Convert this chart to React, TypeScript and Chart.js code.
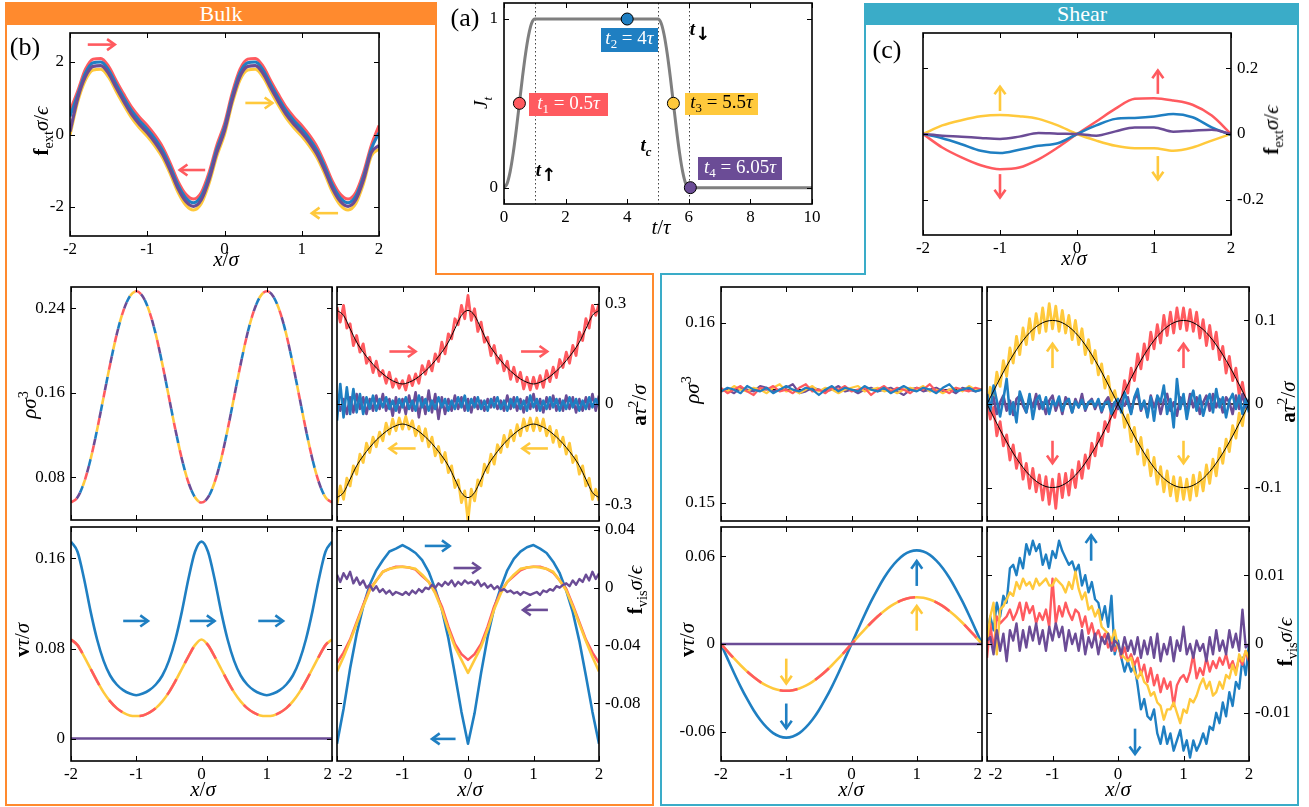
import React, { useEffect, useRef } from 'react';
import { Chart, registerables } from 'chart.js';
Chart.register(...registerables);

const RED = '#FF5A5F';
const BLUE = '#1F7FC2';
const YEL = '#FFC93C';
const PUR = '#6B4C96';
const GRAY = '#7F7F7F';
const ORANGE = '#FF8A2E';
const TEAL = '#3AACC8';
const SERIF = '"Liberation Serif", "DejaVu Serif", serif';
const PADL = 70, PADR = 70, PADT = 12, PADB = 34;

// ---------- shared x grids ----------
const xs41 = [-2,-1.9,-1.8,-1.7,-1.6,-1.5,-1.4,-1.3,-1.2,-1.1,-1,-0.9,-0.8,-0.7,-0.6,-0.5,-0.4,-0.3,-0.2,-0.1,0,0.1,0.2,0.3,0.4,0.5,0.6,0.7,0.8,0.9,1,1.1,1.2,1.3,1.4,1.5,1.6,1.7,1.8,1.9,2];
const xs81 = [-2,-1.95,-1.9,-1.85,-1.8,-1.75,-1.7,-1.65,-1.6,-1.55,
  -1.5,-1.45,-1.4,-1.35,-1.3,-1.25,-1.2,-1.15,-1.1,-1.05,
  -1,-0.95,-0.9,-0.85,-0.8,-0.75,-0.7,-0.65,-0.6,-0.55,
  -0.5,-0.45,-0.4,-0.35,-0.3,-0.25,-0.2,-0.15,-0.1,-0.05,
  0,0.05,0.1,0.15,0.2,0.25,0.3,0.35,0.4,0.45,
  0.5,0.55,0.6,0.65,0.7,0.75,0.8,0.85,0.9,0.95,
  1,1.05,1.1,1.15,1.2,1.25,1.3,1.35,1.4,1.45,
  1.5,1.55,1.6,1.65,1.7,1.75,1.8,1.85,1.9,1.95,
  2];
const xsEnds = [-2, 2];
const xs17 = [-2,-1.75,-1.5,-1.25,-1,-0.75,-0.5,-0.25,0,0.25,0.5,0.75,1,1.25,1.5,1.75,2];
const xTicksPos = [-2,-1,0,1,2];
const xTickLabels = ['-2','-1','0','1','2'];
// bottom-row labels are nudged apart where two panels meet (as in the figure)
const xTickLabelsLeftPanel = ['-2','-1','0','1','2\u2002'];
const xTickLabelsRightPanel = ['\u2002\u2002-2','-1','0','1','2'];

// ---------- (a) protocol ----------
const tJ = [0,0.1,0.2,0.3,0.4,0.5,0.6,0.7,0.8,0.9,1,2,3,4,5,5.1,5.2,5.3,5.4,5.5,5.6,5.7,5.8,5.9,6,7,8,9,10];
const Jt = [0,0.024,0.095,0.206,0.345,0.5,0.655,0.794,0.905,0.976,1,1,1,1,1,0.976,0.905,0.794,0.655,0.5,0.345,0.206,0.095,0.024,0,0,0,0,0];
const tMarks = [0.5,4,5.5,6.05];
const jMarks = [0.5,1,0.5,0];
const tGuides = [1,5,6];
const aXTicks = [0,2,4,6,8,10];
const aXLabels = ['0','2','4','6','8','10'];

// ---------- (b) bulk f_ext ----------
const fextBulkRed = [0.65,1.2,1.8,2.08,2.1,1.88,1.48,1.1,0.75,0.48, 0.25,-0.02,-0.35,-0.8,-1.3,-1.65,-1.78,-1.6,-1.05,-0.3, 0.3,1.15,1.8,2.08,2.1,1.88,1.48,1.1,0.75,0.48, 0.25,-0.02,-0.35,-0.8,-1.3,-1.65,-1.78,-1.6,-1.05,-0.3, 0.25];
const fextBulkBlue = [0.5,1.1,1.7,1.98,2.0,1.78,1.38,1.0,0.65,0.38, 0.15,-0.12,-0.45,-0.9,-1.4,-1.75,-1.88,-1.7,-1.15,-0.4, 0.2,1.05,1.7,1.98,2.0,1.78,1.38,1.0,0.65,0.38, 0.15,-0.12,-0.45,-0.9,-1.4,-1.75,-1.88,-1.7,-1.15,-0.4, 0.05];
const fextBulkPurple = [0.08,1.0,1.6,1.88,1.9,1.68,1.28,0.9,0.55,0.28, 0.05,-0.22,-0.55,-1.0,-1.5,-1.85,-1.98,-1.8,-1.25,-0.5, 0.1,0.95,1.6,1.88,1.9,1.68,1.28,0.9,0.55,0.28, 0.05,-0.22,-0.55,-1.0,-1.5,-1.85,-1.98,-1.8,-1.25,-0.5, -0.3];
const fextBulkYellow = [-0.02,0.9,1.5,1.78,1.8,1.58,1.18,0.8,0.45,0.18, -0.05,-0.32,-0.65,-1.1,-1.6,-1.95,-2.08,-1.9,-1.35,-0.6, 0.0,0.85,1.5,1.78,1.8,1.58,1.18,0.8,0.45,0.18, -0.05,-0.32,-0.65,-1.1,-1.6,-1.95,-2.08,-1.9,-1.35,-0.6, -0.4];
const fextBulkTicks = [-2,0,2];
const fextBulkLabels = ['-2','0','2'];

// ---------- (c) shear f_ext ----------
const fextShearRed = [0,-0.041,-0.071,-0.095,-0.107,-0.102,-0.077,-0.041,0,0.038,0.077,0.107,0.109,0.102,0.089,0.056,0];
const fextShearBlue = [0,-0.013,-0.031,-0.051,-0.058,-0.048,-0.036,-0.028,0,0.026,0.046,0.049,0.053,0.061,0.051,0.02,-0.003];
const fextShearYellow = [0,0.026,0.042,0.054,0.058,0.054,0.046,0.026,0,-0.02,-0.036,-0.043,-0.043,-0.051,-0.041,-0.02,0];
const fextShearPurple = [0,-0.005,-0.008,-0.012,-0.015,-0.008,0.003,0.001,0,-0.005,0.008,0.02,0.02,0.007,0.01,0.013,0];
const fextShearTicks = [-0.2,0,0.2];
const fextShearLabels = ['-0.2','0','0.2'];

// ---------- bulk density ----------
const rhoBulk = [0.056,0.061,0.075,0.097,0.125,0.156,0.187,0.215,0.237,0.251, 0.256,0.251,0.237,0.215,0.187,0.156,0.125,0.097,0.075,0.061, 0.056,0.061,0.075,0.097,0.125,0.156,0.187,0.215,0.237,0.251, 0.256,0.251,0.237,0.215,0.187,0.156,0.125,0.097,0.075,0.061, 0.056];
const rhoBulkTicks = [0.08,0.16,0.24];
const rhoBulkLabels = ['0.08','0.16','0.24'];

// ---------- bulk acceleration ----------
const accBulkTheoryUp = [0.28,0.265,0.225,0.185,0.155,0.13,0.108,0.09,0.075,0.065, 0.06,0.065,0.075,0.09,0.108,0.13,0.155,0.185,0.225,0.265, 0.28,0.265,0.225,0.185,0.155,0.13,0.108,0.09,0.075,0.065, 0.06,0.065,0.075,0.09,0.108,0.13,0.155,0.185,0.225,0.265, 0.28];
const accBulkTheoryDown = [-0.28,-0.265,-0.225,-0.185,-0.155,-0.13,-0.108,-0.09,-0.075,-0.065, -0.06,-0.065,-0.075,-0.09,-0.108,-0.13,-0.155,-0.185,-0.225,-0.265, -0.28,-0.265,-0.225,-0.185,-0.155,-0.13,-0.108,-0.09,-0.075,-0.065, -0.06,-0.065,-0.075,-0.09,-0.108,-0.13,-0.155,-0.185,-0.225,-0.265, -0.28];
const accBulkRed = [0.29,0.245,0.295,0.227,0.24,0.175,0.205,0.155,0.18,0.122,
  0.14,0.094,0.128,0.084,0.1,0.062,0.095,0.05,0.075,0.047,
  0.07,0.042,0.085,0.055,0.09,0.062,0.115,0.089,0.128,0.099,
  0.15,0.127,0.185,0.15,0.21,0.195,0.255,0.237,0.295,0.255,
  0.325,0.25,0.285,0.217,0.245,0.185,0.2,0.145,0.175,0.122,
  0.145,0.099,0.128,0.074,0.11,0.067,0.095,0.045,0.08,0.042,
  0.08,0.047,0.085,0.05,0.1,0.067,0.11,0.079,0.133,0.109,
  0.155,0.122,0.175,0.145,0.215,0.19,0.255,0.227,0.295,0.265,
  0.3];
const accBulkYellow = [-0.3,-0.245,-0.285,-0.222,-0.245,-0.185,-0.21,-0.15,-0.175,-0.117,
  -0.145,-0.099,-0.128,-0.084,-0.11,-0.057,-0.09,-0.045,-0.08,-0.042,
  -0.075,-0.037,-0.075,-0.05,-0.095,-0.067,-0.11,-0.074,-0.128,-0.099,
  -0.155,-0.127,-0.175,-0.145,-0.205,-0.185,-0.25,-0.227,-0.295,-0.26,
  -0.35,-0.255,-0.29,-0.227,-0.245,-0.18,-0.205,-0.15,-0.18,-0.122,
  -0.145,-0.094,-0.128,-0.079,-0.11,-0.062,-0.095,-0.045,-0.08,-0.042,
  -0.08,-0.042,-0.08,-0.045,-0.095,-0.067,-0.115,-0.079,-0.128,-0.099,
  -0.15,-0.117,-0.175,-0.155,-0.21,-0.185,-0.245,-0.222,-0.285,-0.255,
  -0.29];
const accBulkBlue = [-0.05,0.06,-0.04,0.05,-0.03,0.045,-0.025,0.03,-0.03,0.02,
  -0.015,0.025,-0.02,0.015,-0.01,0.02,-0.015,0.01,-0.02,0.015,
  -0.01,0.02,-0.015,0.01,-0.02,0.025,-0.01,0.015,-0.02,0.01,
  -0.015,0.02,-0.01,0.015,-0.02,0.01,-0.015,0.02,-0.01,0.025,
  -0.02,0.015,-0.01,0.02,-0.015,0.01,-0.02,0.015,-0.01,0.02,
  -0.015,0.01,-0.02,0.015,-0.01,0.02,-0.015,0.01,-0.02,0.025,
  -0.01,0.015,-0.02,0.01,-0.015,0.02,-0.01,0.015,-0.02,0.01,
  -0.015,0.02,-0.01,0.015,-0.02,0.01,-0.015,0.02,-0.01,0.015,
  -0.005];
const accBulkPurple = [0.01,-0.02,0.015,-0.03,0.02,-0.025,0.03,-0.015,0.02,-0.03,
  0.015,-0.02,0.025,-0.015,0.03,-0.02,0.015,-0.035,0.02,-0.025,
  0.015,-0.03,0.025,-0.02,0.035,-0.04,0.02,-0.03,0.04,-0.025,
  0.03,-0.045,0.02,-0.03,0.015,-0.02,0.025,-0.015,0.02,-0.02,
  0.015,-0.025,0.02,-0.015,0.01,-0.02,0.015,-0.01,0.02,-0.015,
  0.01,-0.02,0.025,-0.015,0.02,-0.02,0.015,-0.025,0.02,-0.015,
  0.03,-0.02,0.015,-0.025,0.02,-0.015,0.025,-0.02,0.015,-0.02,
  0.025,-0.015,0.02,-0.025,0.015,-0.02,0.02,-0.015,0.03,-0.02,
  0.025];
const accBulkTicks = [-0.3,0,0.3];
const accBulkLabels = ['-0.3','0','0.3'];

// ---------- bulk velocity ----------
const vBulkBlue = [0.175,0.166,0.142,0.113,0.088,0.069,0.056,0.048,0.043,0.04, 0.0385,0.04,0.043,0.048,0.056,0.069,0.088,0.113,0.142,0.166, 0.175,0.166,0.142,0.113,0.088,0.069,0.056,0.048,0.043,0.04, 0.0385,0.04,0.043,0.048,0.056,0.069,0.088,0.113,0.142,0.166, 0.175];
const vBulkRedYellow = [0.088,0.083,0.073,0.062,0.051,0.041,0.033,0.027,0.023,0.0205, 0.02,0.0205,0.023,0.027,0.033,0.041,0.051,0.062,0.073,0.083, 0.088,0.083,0.073,0.062,0.051,0.041,0.033,0.027,0.023,0.0205, 0.02,0.0205,0.023,0.027,0.033,0.041,0.051,0.062,0.073,0.083, 0.088];
const vBulkPurple = [0, 0];
const vBulkTicks = [0,0.08,0.16];
const vBulkLabels = ['0','0.08','0.16'];

// ---------- bulk viscous force ----------
const fvisBulkBlue = [-0.108,-0.084,-0.056,-0.032,-0.013,0.002,0.012,0.019,0.025,0.027, 0.0295,0.027,0.024,0.019,0.011,-0.001,-0.015,-0.035,-0.06,-0.086, -0.108,-0.087,-0.059,-0.034,-0.014,0.0,0.012,0.02,0.025,0.028, 0.0295,0.027,0.024,0.018,0.01,-0.002,-0.017,-0.037,-0.061,-0.086, -0.108];
const fvisBulkRed = [-0.052,-0.045,-0.036,-0.024,-0.012,-0.001,0.005,0.011,0.013,0.0145, 0.0145,0.014,0.0125,0.008,0.004,-0.003,-0.013,-0.027,-0.039,-0.046, -0.05,-0.046,-0.039,-0.027,-0.013,-0.003,0.004,0.008,0.012,0.014, 0.0145,0.0145,0.013,0.0105,0.005,-0.001,-0.012,-0.024,-0.036,-0.045, -0.052];
const fvisBulkYellow = [-0.058,-0.048,-0.037,-0.025,-0.013,-0.002,0.005,0.011,0.013,0.014, 0.0145,0.014,0.013,0.009,0.004,-0.004,-0.015,-0.029,-0.041,-0.05, -0.059,-0.05,-0.041,-0.029,-0.015,-0.004,0.004,0.009,0.013,0.014, 0.0145,0.014,0.013,0.011,0.005,-0.002,-0.013,-0.025,-0.037,-0.048, -0.058];
const fvisBulkPurple = [0.009,0.004,0.01,0.006,0.011,0.003,0.007,0.002,0.005,0.0,
  0.002,-0.002,0.001,-0.003,-0.001,-0.004,-0.002,-0.005,-0.003,-0.004,
  -0.005,-0.003,-0.005,-0.002,-0.004,-0.001,-0.003,0.0,-0.001,0.002,
  0.0,0.003,0.001,0.004,0.002,0.005,0.001,0.004,0.002,0.005,
  0.003,0.004,0.002,0.005,0.001,0.003,0.0,0.002,-0.001,0.001,
  -0.002,-0.001,-0.003,-0.002,-0.004,-0.003,-0.005,-0.003,-0.004,-0.005,
  -0.004,-0.003,-0.005,-0.002,-0.003,-0.001,-0.002,0.001,0.0,0.002,
  0.003,0.001,0.005,0.002,0.006,0.004,0.009,0.005,0.011,0.006,
  0.01];
const fvisBulkTicks = [-0.08,-0.04,0,0.04];
const fvisBulkLabels = ['-0.08','-0.04','0','0.04'];

// ---------- shear density ----------
const rhoShearRed = [0.1564,0.1561,0.1563,0.1565,0.1562,0.1560,0.1564,0.1563,0.1565,0.1562,
  0.1563,0.1561,0.1564,0.1566,0.1562,0.1563,0.1561,0.1564,0.1563,0.1565,
  0.1562,0.1563,0.1564,0.1560,0.1563,0.1565,0.1562,0.1564,0.1563,0.1561,
  0.1564,0.1563,0.1566,0.1562,0.1563,0.1561,0.1564,0.1563,0.1562,0.1564,
  0.1563];
const rhoShearBlue = [0.1562,0.1564,0.1563,0.1561,0.1565,0.1563,0.1562,0.1564,0.1561,0.1563,
  0.1565,0.1563,0.1562,0.1564,0.1563,0.1560,0.1563,0.1565,0.1562,0.1564,
  0.1563,0.1562,0.1565,0.1563,0.1562,0.1564,0.1561,0.1563,0.1565,0.1563,
  0.1562,0.1564,0.1563,0.1561,0.1564,0.1566,0.1562,0.1563,0.1564,0.1562,
  0.1563];
const rhoShearYellow = [0.1563,0.1562,0.1565,0.1563,0.1562,0.1564,0.1563,0.1561,0.1564,0.1566,
  0.1562,0.1563,0.1561,0.1563,0.1565,0.1562,0.1564,0.1563,0.1561,0.1563,
  0.1564,0.1565,0.1562,0.1563,0.1564,0.1562,0.1563,0.1561,0.1563,0.1564,
  0.1563,0.1565,0.1562,0.1563,0.1561,0.1563,0.1564,0.1562,0.1565,0.1563,
  0.1563];
const rhoShearPurple = [0.1562,0.1563,0.1561,0.1564,0.1563,0.1562,0.1565,0.1564,0.1562,0.1563,
  0.1564,0.1566,0.1561,0.1562,0.1564,0.1563,0.1562,0.1563,0.1565,0.1562,
  0.1563,0.1561,0.1563,0.1564,0.1562,0.1563,0.1564,0.1562,0.1560,0.1563,
  0.1564,0.1562,0.1563,0.1564,0.1562,0.1563,0.1561,0.1564,0.1563,0.1562,
  0.1563];
const rhoShearMean = [0.1563, 0.1563];
const rhoShearTicks = [0.15,0.16];
const rhoShearLabels = ['0.15','0.16'];

// ---------- shear acceleration ----------
const accShearTheoryRed = [0,-0.0156,-0.0309,-0.0454,-0.0588,-0.0707,-0.0809,-0.0891,-0.0951,-0.0988, -0.1,-0.0988,-0.0951,-0.0891,-0.0809,-0.0707,-0.0588,-0.0454,-0.0309,-0.0156, 0,0.0156,0.0309,0.0454,0.0588,0.0707,0.0809,0.0891,0.0951,0.0988, 0.1,0.0988,0.0951,0.0891,0.0809,0.0707,0.0588,0.0454,0.0309,0.0156, 0];
const accShearTheoryYellow = [0,0.0156,0.0309,0.0454,0.0588,0.0707,0.0809,0.0891,0.0951,0.0988, 0.1,0.0988,0.0951,0.0891,0.0809,0.0707,0.0588,0.0454,0.0309,0.0156, 0,-0.0156,-0.0309,-0.0454,-0.0588,-0.0707,-0.0809,-0.0891,-0.0951,-0.0988, -0.1,-0.0988,-0.0951,-0.0891,-0.0809,-0.0707,-0.0588,-0.0454,-0.0309,-0.0156, 0];
const accShearZero = [0, 0];
const accShearRed = [0.005,-0.018,-0.004,-0.038,-0.021,-0.05,-0.037,-0.067,-0.049,-0.077,
  -0.059,-0.09,-0.071,-0.101,-0.077,-0.105,-0.085,-0.115,-0.087,-0.12,
  -0.09,-0.125,-0.084,-0.112,-0.083,-0.109,-0.079,-0.1,-0.069,-0.089,
  -0.061,-0.077,-0.047,-0.062,-0.035,-0.05,-0.021,-0.033,-0.006,-0.016,
  0.005,0.0,0.028,0.013,0.043,0.028,0.06,0.042,0.072,0.053,
  0.086,0.066,0.095,0.073,0.106,0.082,0.11,0.085,0.115,0.09,
  0.115,0.088,0.113,0.087,0.11,0.079,0.101,0.07,0.094,0.066,
  0.086,0.053,0.069,0.037,0.057,0.028,0.043,0.011,0.026,0.0,
  0.004];
const accShearYellow = [-0.004,0.02,0.006,0.038,0.021,0.052,0.033,0.067,0.049,0.081,
  0.059,0.091,0.071,0.102,0.077,0.108,0.085,0.115,0.087,0.12,
  0.09,0.117,0.087,0.112,0.085,0.106,0.077,0.1,0.071,0.09,
  0.059,0.077,0.049,0.064,0.035,0.048,0.019,0.033,0.004,0.016,
  -0.004,0.002,-0.028,-0.013,-0.045,-0.028,-0.06,-0.04,-0.073,-0.055,
  -0.086,-0.064,-0.096,-0.075,-0.105,-0.08,-0.11,-0.087,-0.116,-0.088,
  -0.114,-0.09,-0.115,-0.085,-0.11,-0.082,-0.104,-0.073,-0.095,-0.066,
  -0.086,-0.053,-0.071,-0.042,-0.057,-0.026,-0.041,-0.011,-0.026,0.002,
  0.0];
const accShearBlue = [0.012,-0.008,0.022,0.004,-0.015,0.006,0.03,-0.012,0.002,-0.022,
  0.015,0.003,-0.01,0.012,-0.018,0.004,0.01,-0.006,0.008,-0.012,
  0.004,-0.002,0.009,-0.008,0.002,0.006,-0.01,0.003,-0.004,0.005,
  -0.006,0.002,0.004,-0.003,0.006,-0.008,0.001,0.003,-0.012,0.002,
  0.006,-0.01,0.014,0.002,-0.012,0.008,0.018,-0.006,0.004,-0.016,
  0.008,-0.02,0.01,0.002,0.022,-0.012,0.006,-0.028,0.03,-0.006,
  0.012,-0.018,0.004,0.016,-0.008,0.01,-0.014,0.002,0.012,-0.01,
  0.018,-0.004,0.008,-0.016,0.004,0.012,-0.006,0.01,-0.012,0.006,
  -0.01];
const accShearPurple = [0.012,-0.004,0.008,-0.012,0.002,0.01,-0.008,0.004,-0.013,0.006,
  0.01,-0.002,-0.01,0.008,-0.004,0.012,-0.006,0.002,-0.012,0.004,
  0.01,-0.008,0.004,-0.012,0.008,0.002,-0.01,0.006,-0.004,0.012,
  -0.008,0.002,0.006,-0.006,0.004,-0.01,0.002,0.008,-0.004,0.002,
  -0.006,0.004,-0.002,0.008,-0.01,0.006,0.012,-0.008,0.002,-0.012,
  0.01,-0.004,0.008,-0.012,0.004,0.012,-0.008,0.002,-0.014,0.008,
  0.004,-0.01,0.012,-0.004,0.008,-0.012,0.002,0.01,-0.008,0.012,
  -0.004,0.006,-0.01,0.008,0.002,-0.012,0.01,-0.006,0.012,-0.004,
  0.006];
const accShearTicks = [-0.1,0,0.1];
const accShearLabels = ['-0.1','0','0.1'];

// ---------- shear velocity ----------
const vShearBlue = [0,-0.01,-0.0198,-0.0291,-0.0376,-0.0453,-0.0518,-0.057,-0.0609,-0.0632, -0.064,-0.0632,-0.0609,-0.057,-0.0518,-0.0453,-0.0376,-0.0291,-0.0198,-0.01, 0,0.01,0.0198,0.0291,0.0376,0.0453,0.0518,0.057,0.0609,0.0632, 0.064,0.0632,0.0609,0.057,0.0518,0.0453,0.0376,0.0291,0.0198,0.01, 0];
const vShearRedYellow = [0,-0.005,-0.0099,-0.0145,-0.0188,-0.0226,-0.0259,-0.0285,-0.0304,-0.0316, -0.032,-0.0316,-0.0304,-0.0285,-0.0259,-0.0226,-0.0188,-0.0145,-0.0099,-0.005, 0,0.005,0.0099,0.0145,0.0188,0.0226,0.0259,0.0285,0.0304,0.0316, 0.032,0.0316,0.0304,0.0285,0.0259,0.0226,0.0188,0.0145,0.0099,0.005, 0];
const vShearPurple = [0, 0];
const vShearTicks = [-0.06,0,0.06];
const vShearLabels = ['-0.06','0','0.06'];

// ---------- shear viscous force ----------
const fvisShearBlue = [0.001,0.004,0.002,0.006,0.004,0.007,0.006,0.011,0.0115,0.01,
  0.0125,0.011,0.0145,0.013,0.015,0.0135,0.0145,0.0115,0.013,0.011,
  0.0135,0.0125,0.015,0.0135,0.0125,0.0115,0.012,0.0105,0.0115,0.0085,
  0.01,0.0075,0.009,0.0065,0.006,0.0035,0.0055,0.0025,0.007,-0.0015,
  0.0005,-0.002,-0.004,-0.0025,-0.004,-0.003,-0.006,-0.0095,-0.008,-0.0105,
  -0.011,-0.0095,-0.013,-0.0145,-0.012,-0.0145,-0.013,-0.0155,-0.014,-0.0125,
  -0.0155,-0.014,-0.0165,-0.014,-0.0155,-0.0145,-0.013,-0.0145,-0.012,-0.0125,
  -0.01,-0.0115,-0.0085,-0.0105,-0.007,-0.009,-0.0055,-0.0065,-0.002,-0.0045,
  0.0];
const fvisShearYellow = [0.0005,0.004,0.006,-0.0015,0.005,0.0055,0.0065,0.0075,0.007,0.009,
  0.008,0.0095,0.0085,0.009,0.008,0.0095,0.0085,0.009,0.0095,0.0085,
  0.0085,0.0095,0.009,0.0085,0.0075,0.009,0.008,0.0105,0.008,0.0065,
  0.0075,0.005,0.0055,0.004,0.005,0.0025,0.002,0.0015,0.0005,0.002,
  -0.0005,-0.0015,-0.002,-0.0025,-0.002,-0.004,-0.005,-0.004,-0.0055,-0.006,
  -0.0075,-0.007,-0.0085,-0.009,-0.011,-0.0095,-0.0095,-0.0085,-0.01,-0.0115,
  -0.0095,-0.01,-0.008,-0.0085,-0.0075,-0.006,-0.005,-0.0065,-0.0055,-0.0075,
  -0.007,-0.0055,-0.0065,-0.0045,-0.005,-0.003,-0.0045,-0.0015,-0.0025,-0.001,
  -0.002];
const fvisShearRed = [-0.002,0.003,-0.001,0.004,0.003,0.0035,0.004,0.005,0.0035,0.0045,
  0.006,0.0035,0.006,0.0045,0.0055,0.003,0.0045,0.0035,0.005,0.0025,
  0.0095,0.003,0.0055,0.004,0.006,0.0045,0.0035,0.005,0.0045,0.0025,
  0.004,0.0015,0.003,0.001,0.002,0.0005,0.0015,-0.0005,0.0005,-0.001,
  0.0,-0.002,-0.0005,-0.0025,-0.0015,-0.003,-0.002,-0.0045,-0.003,-0.0055,
  -0.0035,-0.006,-0.0045,-0.007,-0.005,-0.0065,-0.0055,-0.009,-0.006,-0.005,
  -0.0045,-0.0055,-0.004,-0.0015,-0.005,-0.0035,-0.0045,-0.002,-0.004,-0.0025,
  -0.0035,-0.002,-0.003,-0.0015,-0.0035,-0.0025,-0.004,-0.002,-0.003,-0.001,
  -0.0025];
const fvisShearPurple = [0.0005,0.001,-0.0015,0.002,-0.001,0.0015,-0.0025,0.002,0.0005,0.003,
  -0.001,0.002,-0.0005,0.0025,0.0005,0.003,0.0,0.002,-0.001,0.0025,
  0.0005,0.003,0.001,0.0025,-0.001,0.002,0.0,0.0015,-0.001,0.002,
  -0.0015,0.001,-0.0005,0.0015,-0.0015,0.001,0.0,0.0015,-0.001,0.0005,
  0.0,-0.0015,0.001,-0.001,0.0005,-0.0015,0.001,-0.002,0.0005,-0.0015,
  0.001,-0.002,0.0015,-0.0025,0.0,-0.0015,0.001,-0.0025,0.0005,-0.001,
  0.0025,-0.0015,0.0,-0.002,0.0005,-0.001,0.0,-0.0025,0.001,-0.0015,
  0.002,-0.001,0.0005,-0.0015,0.002,-0.0005,0.0015,-0.001,0.005,-0.0005,
  0.0];
const fvisShearTicks = [-0.01,0,0.01];
const fvisShearLabels = ['-0.01','0','0.01'];

// ---------- direction arrows (data coordinates) ----------
type Arrow = { x1: number; y1: number; x2: number; y2: number; color: string };
const arrowsBulkFext: Arrow[] = [
  { x1: -1.77, y1: 2.48, x2: -1.42, y2: 2.48, color: RED },
  { x1: -0.25, y1: -0.98, x2: -0.58, y2: -0.98, color: RED },
  { x1: 0.27, y1: 0.87, x2: 0.62, y2: 0.87, color: YEL },
  { x1: 1.47, y1: -2.17, x2: 1.13, y2: -2.17, color: YEL },
];
const arrowsShearFext: Arrow[] = [
  { x1: -1, y1: 0.07, x2: -1, y2: 0.144, color: YEL },
  { x1: -1, y1: -0.122, x2: -1, y2: -0.193, color: RED },
  { x1: 1.05, y1: 0.122, x2: 1.05, y2: 0.193, color: RED },
  { x1: 1.05, y1: -0.067, x2: 1.05, y2: -0.138, color: YEL },
];
const arrowsBulkAcc: Arrow[] = [
  { x1: -1.2, y1: 0.157, x2: -0.8, y2: 0.157, color: RED },
  { x1: 0.81, y1: 0.157, x2: 1.21, y2: 0.157, color: RED },
  { x1: -0.8, y1: -0.133, x2: -1.2, y2: -0.133, color: YEL },
  { x1: 1.22, y1: -0.133, x2: 0.83, y2: -0.133, color: YEL },
];
const arrowsBulkV: Arrow[] = [
  { x1: -1.2, y1: 0.1045, x2: -0.82, y2: 0.1045, color: BLUE },
  { x1: -0.18, y1: 0.1045, x2: 0.2, y2: 0.1045, color: BLUE },
  { x1: 0.87, y1: 0.1045, x2: 1.25, y2: 0.1045, color: BLUE },
];
const arrowsBulkFvis: Arrow[] = [
  { x1: -0.66, y1: 0.0289, x2: -0.28, y2: 0.0289, color: BLUE },
  { x1: -0.22, y1: 0.0136, x2: 0.18, y2: 0.0136, color: PUR },
  { x1: 1.22, y1: -0.0154, x2: 0.84, y2: -0.0154, color: PUR },
  { x1: -0.19, y1: -0.1047, x2: -0.55, y2: -0.1047, color: BLUE },
];
const arrowsShearAcc: Arrow[] = [
  { x1: -1, y1: 0.043, x2: -1, y2: 0.072, color: YEL },
  { x1: -1, y1: -0.044, x2: -1, y2: -0.071, color: RED },
  { x1: 1, y1: 0.043, x2: 1, y2: 0.072, color: RED },
  { x1: 1, y1: -0.044, x2: 1, y2: -0.071, color: YEL },
];
const arrowsShearV: Arrow[] = [
  { x1: 1, y1: 0.0397, x2: 1, y2: 0.0568, color: BLUE },
  { x1: 1, y1: 0.0091, x2: 1, y2: 0.026, color: YEL },
  { x1: -1, y1: -0.01, x2: -1, y2: -0.027, color: YEL },
  { x1: -1, y1: -0.0407, x2: -1, y2: -0.0577, color: BLUE },
];
const arrowsShearFvis: Arrow[] = [
  { x1: -0.41, y1: 0.0121, x2: -0.41, y2: 0.0158, color: BLUE },
  { x1: 0.26, y1: -0.0123, x2: 0.26, y2: -0.016, color: BLUE },
];

// ---------- helpers ----------
const pts = (xs: number[], ys: number[]) => xs.map((x, i) => ({ x, y: ys[i] }));
function series(xs: number[], ys: number[], color: string, width = 2.5, extra: any = {}) {
  return { data: pts(xs, ys), borderColor: color, backgroundColor: color, borderWidth: width, borderJoinStyle: 'round', pointRadius: 0, fill: false, tension: 0, ...extra };
}
const SMOOTH = { cubicInterpolationMode: 'monotone' };

function drawArrow(ctx: CanvasRenderingContext2D, x1: number, y1: number, x2: number, y2: number, color: string) {
  const ang = Math.atan2(y2 - y1, x2 - x1);
  const h = 9.5, w = 0.62;
  ctx.strokeStyle = color;
  ctx.lineWidth = 2.6;
  ctx.lineCap = 'butt';
  ctx.lineJoin = 'miter';
  ctx.setLineDash([]);
  ctx.beginPath();
  ctx.moveTo(x1, y1);
  ctx.lineTo(x2, y2);
  ctx.stroke();
  ctx.beginPath();
  ctx.moveTo(x2 - h * Math.cos(ang - w), y2 - h * Math.sin(ang - w));
  ctx.lineTo(x2, y2);
  ctx.lineTo(x2 - h * Math.cos(ang + w), y2 - h * Math.sin(ang + w));
  ctx.stroke();
}

type PlotProps = {
  area: number[];
  xMin: number; xMax: number; xTicks: number[]; xLabels?: string[] | null;
  yMin: number; yMax: number; yTicks: number[]; yLabels: string[]; ySide: 'left' | 'right';
  datasets: any[]; arrows?: Arrow[]; vlines?: number[];
};

const tickFont = { family: SERIF, size: 17 };

function Plot(p: PlotProps) {
  const ref = useRef<HTMLCanvasElement | null>(null);
  const [L, T, R, B] = p.area;
  const W = R - L + PADL + PADR;
  const H = B - T + PADT + PADB;
  useEffect(() => {
    const deco = {
      id: 'deco',
      beforeDatasetsDraw(chart: any) {
        const { ctx, chartArea: a, scales } = chart;
        if (p.vlines) {
          ctx.save();
          ctx.strokeStyle = '#444';
          ctx.lineWidth = 1;
          ctx.setLineDash([1.5, 2.5]);
          for (const v of p.vlines) {
            const px = Math.round(scales.x.getPixelForValue(v)) + 0.5;
            ctx.beginPath(); ctx.moveTo(px, a.top); ctx.lineTo(px, a.bottom); ctx.stroke();
          }
          ctx.restore();
        }
      },
      afterDatasetsDraw(chart: any) {
        const { ctx, chartArea: a, scales } = chart;
        ctx.save();
        for (const ar of p.arrows || []) {
          drawArrow(ctx, scales.x.getPixelForValue(ar.x1), scales.y.getPixelForValue(ar.y1),
            scales.x.getPixelForValue(ar.x2), scales.y.getPixelForValue(ar.y2), ar.color);
        }
        ctx.setLineDash([]);
        ctx.strokeStyle = '#000';
        ctx.lineWidth = 1.6;
        ctx.strokeRect(a.left, a.top, a.right - a.left, a.bottom - a.top);
        ctx.lineWidth = 1;
        for (const v of p.xTicks) {
          const px = Math.round(scales.x.getPixelForValue(v)) + 0.5;
          ctx.beginPath(); ctx.moveTo(px, a.bottom); ctx.lineTo(px, a.bottom - 5); ctx.stroke();
          ctx.beginPath(); ctx.moveTo(px, a.top); ctx.lineTo(px, a.top + 5); ctx.stroke();
        }
        for (const v of p.yTicks) {
          const py = Math.round(scales.y.getPixelForValue(v)) + 0.5;
          ctx.beginPath(); ctx.moveTo(a.left, py); ctx.lineTo(a.left + 5, py); ctx.stroke();
          ctx.beginPath(); ctx.moveTo(a.right, py); ctx.lineTo(a.right - 5, py); ctx.stroke();
        }
        ctx.restore();
      },
    };
    const chart = new Chart(ref.current as HTMLCanvasElement, {
      type: 'line',
      data: { datasets: p.datasets },
      options: {
        animation: false,
        responsive: false,
        devicePixelRatio: 1,
        events: [],
        layout: { padding: { left: p.ySide === 'right' ? PADL : 0, right: p.ySide === 'left' ? PADR : 0, top: PADT, bottom: 0 } },
        plugins: { legend: { display: false }, tooltip: { enabled: false } },
        scales: {
          x: {
            type: 'linear', min: p.xMin, max: p.xMax,
            grid: { display: false, drawTicks: false }, border: { display: false },
            ticks: {
              display: !!p.xLabels, autoSkip: false, maxRotation: 0, padding: 3, color: '#000', font: tickFont,
              callback: (_v: any, i: number) => (p.xLabels ? p.xLabels[i] : ''),
            },
            afterBuildTicks: (s: any) => { s.ticks = p.xTicks.map((v) => ({ value: v })); },
            afterFit: (s: any) => { s.height = PADB; s.paddingLeft = 0; s.paddingRight = 0; },
          },
          y: {
            type: 'linear', position: p.ySide, min: p.yMin, max: p.yMax,
            grid: { display: false, drawTicks: false }, border: { display: false },
            ticks: {
              autoSkip: false, padding: 6, color: '#000', font: tickFont,
              callback: (_v: any, i: number) => p.yLabels[i],
            },
            afterBuildTicks: (s: any) => { s.ticks = p.yTicks.map((v) => ({ value: v })); },
            afterFit: (s: any) => { s.width = p.ySide === 'left' ? PADL : PADR; s.paddingTop = 0; s.paddingBottom = 0; },
          },
        },
      } as any,
      plugins: [deco],
    } as any);
    return () => chart.destroy();
  }, []);
  return <canvas ref={ref} width={W} height={H} style={{ position: 'absolute', left: L - PADL, top: T - PADT, width: W, height: H }} />;
}

const Sub = ({ c, it = false }: { c: any; it?: boolean }) => (
  <span style={{ fontSize: '0.68em', verticalAlign: '-0.32em', fontStyle: it ? 'italic' : 'normal' }}>{c}</span>
);
const ArrowSub = ({ c }: { c: string }) => (
  <span style={{ fontSize: '0.95em', verticalAlign: '-0.3em', fontWeight: 'bold', fontFamily: '"DejaVu Sans", sans-serif' }}>{c}</span>
);
const Sup = ({ c }: { c: any }) => <span style={{ fontSize: '0.68em', verticalAlign: '0.5em' }}>{c}</span>;

function Txt({ x, y, size = 20, rot = 0, color = '#000', children }: any) {
  return (
    <div style={{ position: 'absolute', left: x, top: y, transform: `translate(-50%,-50%) rotate(${rot}deg)`, fontSize: size, lineHeight: 1, whiteSpace: 'nowrap', color, fontFamily: SERIF }}>
      {children}
    </div>
  );
}

function Box({ l, t, w, h, bg, color = '#fff', children }: any) {
  return (
    <div style={{ position: 'absolute', left: l, top: t, width: w, height: h, background: bg, color, fontFamily: SERIF, fontSize: 19, display: 'flex', alignItems: 'center', justifyContent: 'center', whiteSpace: 'nowrap', lineHeight: 1 }}>
      <span>{children}</span>
    </div>
  );
}

const XLab = () => (<span><i>x</i>/<i>σ</i></span>);

export default function App() {
  return (
    <div style={{ position: 'fixed', left: 0, top: 0, width: 1309, height: 807, background: '#fff', overflow: 'hidden', fontFamily: SERIF }}>
      <svg width={1309} height={807} style={{ position: 'absolute', left: 0, top: 0 }}>
        <polyline points="6,2 6,805 653,805 653,274 436,274 436,2" fill="none" stroke={ORANGE} strokeWidth={2} />
        <polyline points="865,3 865,274 661,274 661,805 1298,805 1298,3" fill="none" stroke={TEAL} strokeWidth={2} />
      </svg>
      <div style={{ position: 'absolute', left: 5, top: 2, width: 432, height: 23, background: ORANGE, color: '#fff', fontSize: 22, display: 'flex', alignItems: 'center', justifyContent: 'center', fontFamily: SERIF }}>Bulk</div>
      <div style={{ position: 'absolute', left: 865, top: 3, width: 434, height: 22, background: TEAL, color: '#fff', fontSize: 22, display: 'flex', alignItems: 'center', justifyContent: 'center', fontFamily: SERIF }}>Shear</div>

      {/* (b) bulk external force */}
      <Plot area={[70, 33, 379, 236]} xMin={-2} xMax={2} xTicks={xTicksPos} xLabels={xTickLabels}
        yMin={-2.8} yMax={2.8} yTicks={fextBulkTicks} yLabels={fextBulkLabels} ySide="left"
        arrows={arrowsBulkFext}
        datasets={[
          series(xs41, fextBulkPurple, PUR, 3.2, SMOOTH),
          series(xs41, fextBulkBlue, BLUE, 3, SMOOTH),
          series(xs41, fextBulkRed, RED, 3, SMOOTH),
          series(xs41, fextBulkYellow, YEL, 3, SMOOTH),
        ]} />

      {/* (a) protocol */}
      <Plot area={[504, 3, 812, 204]} xMin={0} xMax={10} xTicks={aXTicks} xLabels={aXLabels}
        yMin={-0.097} yMax={1.095} yTicks={[0, 1]} yLabels={['0', '1']} ySide="left"
        vlines={tGuides}
        datasets={[
          { data: pts(tMarks, jMarks), showLine: false, pointRadius: 6, pointBackgroundColor: [RED, BLUE, YEL, PUR], pointBorderColor: '#000', pointBorderWidth: 1, borderColor: '#000' },
          series(tJ, Jt, GRAY, 3, SMOOTH),
        ]} />

      {/* (c) shear external force */}
      <Plot area={[923, 33, 1231, 235]} xMin={-2} xMax={2} xTicks={xTicksPos} xLabels={xTickLabels}
        yMin={-0.307} yMax={0.307} yTicks={fextShearTicks} yLabels={fextShearLabels} ySide="right"
        arrows={arrowsShearFext}
        datasets={[
          series(xs17, fextShearPurple, PUR, 2.5, SMOOTH),
          series(xs17, fextShearBlue, BLUE, 2.5, SMOOTH),
          series(xs17, fextShearYellow, YEL, 2.5, SMOOTH),
          series(xs17, fextShearRed, RED, 2.5, SMOOTH),
        ]} />

      {/* bulk density */}
      <Plot area={[71, 287, 332, 520]} xMin={-2} xMax={2} xTicks={xTicksPos} xLabels={null}
        yMin={0.0395} yMax={0.26} yTicks={rhoBulkTicks} yLabels={rhoBulkLabels} ySide="left"
        datasets={[
          series(xs41, rhoBulk, RED, 2.6, { ...SMOOTH, borderDash: [7, 21], borderDashOffset: 0 }),
          series(xs41, rhoBulk, YEL, 2.6, { ...SMOOTH, borderDash: [7, 21], borderDashOffset: 7 }),
          series(xs41, rhoBulk, BLUE, 2.6, { ...SMOOTH, borderDash: [7, 21], borderDashOffset: 14 }),
          series(xs41, rhoBulk, PUR, 2.6, { ...SMOOTH, borderDash: [7, 21], borderDashOffset: 21 }),
        ]} />

      {/* bulk acceleration */}
      <Plot area={[337, 287, 599, 521]} xMin={-2} xMax={2} xTicks={xTicksPos} xLabels={null}
        yMin={-0.35} yMax={0.35} yTicks={accBulkTicks} yLabels={accBulkLabels} ySide="right"
        arrows={arrowsBulkAcc}
        datasets={[
          series(xs41, accBulkTheoryUp, '#000', 1, SMOOTH),
          series(xs41, accBulkTheoryDown, '#000', 1, SMOOTH),
          series(xs81, accBulkBlue, BLUE, 2.6),
          series(xs81, accBulkPurple, PUR, 2.6),
          series(xs81, accBulkRed, RED, 2.8),
          series(xs81, accBulkYellow, YEL, 2.8),
        ]} />

      {/* bulk velocity */}
      <Plot area={[71, 527, 332, 761]} xMin={-2} xMax={2} xTicks={xTicksPos} xLabels={xTickLabelsLeftPanel}
        yMin={-0.02} yMax={0.188} yTicks={vBulkTicks} yLabels={vBulkLabels} ySide="left"
        arrows={arrowsBulkV}
        datasets={[
          series(xs41, vBulkRedYellow, RED, 2.6, { ...SMOOTH, borderDash: [18, 18] }),
          series(xs41, vBulkRedYellow, YEL, 2.6, SMOOTH),
          series(xs41, vBulkBlue, BLUE, 2.6, SMOOTH),
          series(xsEnds, vBulkPurple, PUR, 2.6),
        ]} />

      {/* bulk viscous force */}
      <Plot area={[337, 527, 599, 761]} xMin={-2} xMax={2} xTicks={xTicksPos} xLabels={xTickLabelsRightPanel}
        yMin={-0.12} yMax={0.042} yTicks={fvisBulkTicks} yLabels={fvisBulkLabels} ySide="right"
        arrows={arrowsBulkFvis}
        datasets={[
          series(xs81, fvisBulkPurple, PUR, 2.4),
          series(xs41, fvisBulkYellow, YEL, 2.6),
          series(xs41, fvisBulkRed, RED, 2.6),
          series(xs41, fvisBulkBlue, BLUE, 2.6),
        ]} />

      {/* shear density */}
      <Plot area={[721, 287, 982, 521]} xMin={-2} xMax={2} xTicks={xTicksPos} xLabels={null}
        yMin={0.149} yMax={0.162} yTicks={rhoShearTicks} yLabels={rhoShearLabels} ySide="left"
        datasets={[
          series(xs41, rhoShearBlue, BLUE, 2.2),
          series(xs41, rhoShearRed, RED, 2.2),
          series(xs41, rhoShearYellow, YEL, 2.2),
          series(xs41, rhoShearPurple, PUR, 2.2),
          series(xsEnds, rhoShearMean, '#000', 1.2),
        ]} />

      {/* shear acceleration */}
      <Plot area={[987, 287, 1249, 521]} xMin={-2} xMax={2} xTicks={xTicksPos} xLabels={null}
        yMin={-0.14} yMax={0.14} yTicks={accShearTicks} yLabels={accShearLabels} ySide="right"
        arrows={arrowsShearAcc}
        datasets={[
          series(xs41, accShearTheoryRed, '#000', 1, SMOOTH),
          series(xs41, accShearTheoryYellow, '#000', 1, SMOOTH),
          series(xs81, accShearBlue, BLUE, 2.6),
          series(xs81, accShearPurple, PUR, 2.6),
          series(xsEnds, accShearZero, '#000', 1.5),
          series(xs81, accShearRed, RED, 2.8),
          series(xs81, accShearYellow, YEL, 2.8),
        ]} />

      {/* shear velocity */}
      <Plot area={[721, 527, 982, 761]} xMin={-2} xMax={2} xTicks={xTicksPos} xLabels={xTickLabelsLeftPanel}
        yMin={-0.08} yMax={0.08} yTicks={vShearTicks} yLabels={vShearLabels} ySide="left"
        arrows={arrowsShearV}
        datasets={[
          series(xsEnds, vShearPurple, PUR, 2.6),
          series(xs41, vShearRedYellow, RED, 2.6, { ...SMOOTH, borderDash: [18, 20] }),
          series(xs41, vShearRedYellow, YEL, 2.6, SMOOTH),
          series(xs41, vShearBlue, BLUE, 2.6, SMOOTH),
        ]} />

      {/* shear viscous force */}
      <Plot area={[987, 527, 1249, 761]} xMin={-2} xMax={2} xTicks={xTicksPos} xLabels={xTickLabelsRightPanel}
        yMin={-0.017} yMax={0.017} yTicks={fvisShearTicks} yLabels={fvisShearLabels} ySide="right"
        arrows={arrowsShearFvis}
        datasets={[
          series(xs81, fvisShearPurple, PUR, 2.4),
          series(xs81, fvisShearYellow, YEL, 2.4),
          series(xs81, fvisShearRed, RED, 2.4),
          series(xs81, fvisShearBlue, BLUE, 2.4),
        ]} />

      {/* panel letters */}
      <Txt x={25} y={47} size={26}>(b)</Txt>
      <Txt x={465} y={18} size={26}>(a)</Txt>
      <Txt x={887} y={50} size={26}>(c)</Txt>

      {/* axis titles */}
      <Txt x={226} y={259} size={21}><XLab /></Txt>
      <Txt x={43} y={131} size={21} rot={-90}><b>f</b><Sub c="ext" /><i>σ</i>/<i>ϵ</i></Txt>
      <Txt x={661} y={227} size={21}><i>t</i>/<i>τ</i></Txt>
      <Txt x={483} y={103} size={19} rot={-90}><i>J</i><Sub c="t" it /></Txt>
      <Txt x={1074} y={258} size={21}><XLab /></Txt>
      <Txt x={1273} y={130} size={21} rot={-90}><b>f</b><Sub c="ext" /><i>σ</i>/<i>ϵ</i></Txt>

      <Txt x={28} y={405} size={21} rot={-90}><i>ρσ</i><Sup c="3" /></Txt>
      <Txt x={638} y={405} size={21} rot={-90}><b>a</b><i>τ</i><Sup c="2" />/<i>σ</i></Txt>
      <Txt x={22} y={640} size={21} rot={-90}><b>v</b><i>τ</i>/<i>σ</i></Txt>
      <Txt x={637} y={590} size={21} rot={-90}><b>f</b><Sub c="vis" /><i>σ</i>/<i>ϵ</i></Txt>
      <Txt x={203} y={789} size={21}><XLab /></Txt>
      <Txt x={470} y={789} size={21}><XLab /></Txt>

      <Txt x={691} y={390} size={21} rot={-90}><i>ρσ</i><Sup c="3" /></Txt>
      <Txt x={1287} y={402} size={21} rot={-90}><b>a</b><i>τ</i><Sup c="2" />/<i>σ</i></Txt>
      <Txt x={687} y={640} size={21} rot={-90}><b>v</b><i>τ</i>/<i>σ</i></Txt>
      <Txt x={1287} y={642} size={21} rot={-90}><b>f</b><Sub c="vis" /><i>σ</i>/<i>ϵ</i></Txt>
      <Txt x={851} y={789} size={21}><XLab /></Txt>
      <Txt x={1118} y={789} size={21}><XLab /></Txt>

      {/* (a) annotations */}
      <Box l={529} t={93} w={79} h={23} bg={RED}><i>t</i><Sub c="1" />&nbsp;=&nbsp;0.5<i>τ</i></Box>
      <Box l={601} t={28} w={57} h={24} bg={BLUE}><i>t</i><Sub c="2" />&nbsp;=&nbsp;4<i>τ</i></Box>
      <Box l={685} t={93} w={73} h={22} bg={YEL} color="#000"><i>t</i><Sub c="3" />&nbsp;=&nbsp;5.5<i>τ</i></Box>
      <Box l={698} t={157} w={84} h={23} bg={PUR}><i>t</i><Sub c="4" />&nbsp;=&nbsp;6.05<i>τ</i></Box>
      <Txt x={546} y={172} size={19}><b><i>t</i></b><ArrowSub c="↑" /></Txt>
      <Txt x={646} y={147} size={19}><b><i>t</i></b><Sub c={<b>c</b>} it /></Txt>
      <Txt x={700} y={31} size={19}><b><i>t</i></b><ArrowSub c="↓" /></Txt>
    </div>
  );
}
